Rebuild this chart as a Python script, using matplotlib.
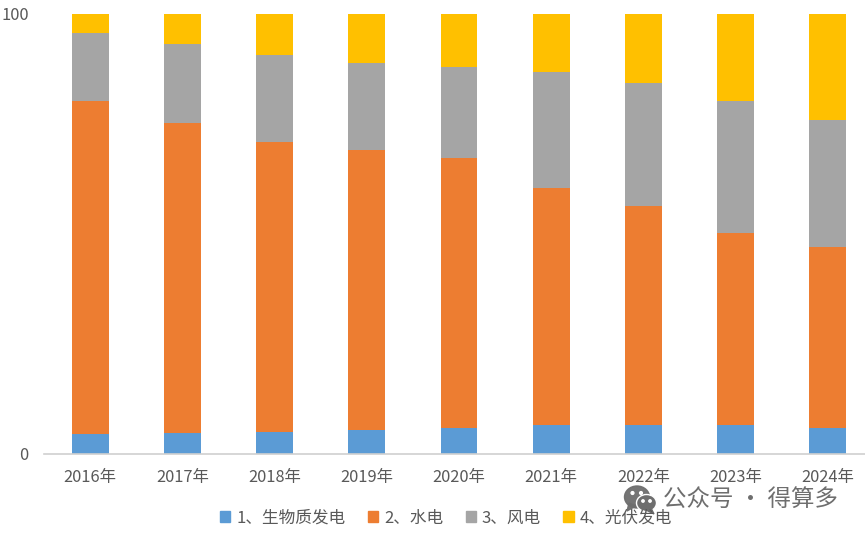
import matplotlib
matplotlib.use('Agg')
import matplotlib.pyplot as plt
from matplotlib.patches import Ellipse, Polygon, Patch
import numpy as np

plt.rcParams['font.family'] = ['Noto Sans CJK SC', 'DejaVu Sans']

years = ['2016年', '2017年', '2018年', '2019年', '2020年', '2021年', '2022年', '2023年', '2024年']
series_names = ['1、生物质发电', '2、水电', '3、风电', '4、光伏发电']
biomass = [4.4, 4.6, 4.8, 5.3, 5.9, 6.5, 6.5, 6.5, 5.9]
hydro = [75.8, 70.6, 66.1, 63.7, 61.3, 53.9, 49.8, 43.7, 41.1]
wind = [15.5, 17.9, 19.7, 19.8, 20.8, 26.4, 28.0, 30.0, 28.8]
solar = [4.3, 6.9, 9.4, 11.2, 12.0, 13.2, 15.7, 19.8, 24.2]
colors = ['#5b9bd5', '#ed7d31', '#a5a5a5', '#ffc000']

W, H = 865, 533
fig = plt.figure(figsize=(W / 100, H / 100), dpi=100)
# the last category runs past the right edge of the canvas
ax = fig.add_axes([44 / W, 1 - 453.5 / H, 830 / W, 439.5 / H])

x = np.arange(len(years))
bottom = np.zeros(len(years))
for values, name, color in zip([biomass, hydro, wind, solar], series_names, colors):
    ax.bar(x, values, width=0.4, bottom=bottom, color=color, label=name)
    bottom += np.array(values)

ax.set_xlim(-0.5, 8.5)
ax.set_ylim(0, 100)
ax.set_xticks(x)
ax.set_xticklabels(years)
ax.set_yticks([0, 100])
ax.tick_params(axis='both', length=0, labelcolor='#595959', labelsize=11.8)
ax.tick_params(axis='x', pad=11)
ax.tick_params(axis='y', pad=11)
for side in ['top', 'left', 'right']:
    ax.spines[side].set_visible(False)
ax.spines['bottom'].set_color('#d0d0d0')
ax.spines['bottom'].set_linewidth(1.2)

# legend row along the bottom
handles = [Patch(color=c) for c in colors]
fig.legend(handles, series_names, loc='center', bbox_to_anchor=(446 / W, 1 - 518 / H),
           ncol=4, frameon=False, fontsize=12, labelcolor='#595959',
           handlelength=0.62, handleheight=0.62, handletextpad=0.35, columnspacing=1.35)

# account mark: two speech bubbles and the account name
overlay = fig.add_axes([0, 0, 1, 1], zorder=5)
overlay.set_xlim(0, W)
overlay.set_ylim(H, 0)
overlay.axis('off')
grey = '#6e6e6e'
overlay.add_patch(Ellipse((637, 497), 25, 22, color=grey, alpha=0.95))
overlay.add_patch(Polygon([[629, 503], [627, 511], [636, 506]], color=grey, alpha=0.95))
overlay.add_patch(Ellipse((646.5, 503), 20, 17, facecolor=grey, edgecolor='white', linewidth=1))
overlay.add_patch(Polygon([[651, 508], [654, 514], [646, 510]], color=grey))
for ex, ey, er in [(632.5, 493, 1.4), (641, 493, 1.4), (643, 501, 1.2), (650, 501, 1.2)]:
    overlay.add_patch(Ellipse((ex, ey), er * 2, er * 2, color='white'))
overlay.text(663, 499.5, '公众号 · 得算多', fontsize=16.9, color='#666666', alpha=0.95,
             ha='left', va='center')

fig.savefig('out.png', dpi=100)
plt.close(fig)
